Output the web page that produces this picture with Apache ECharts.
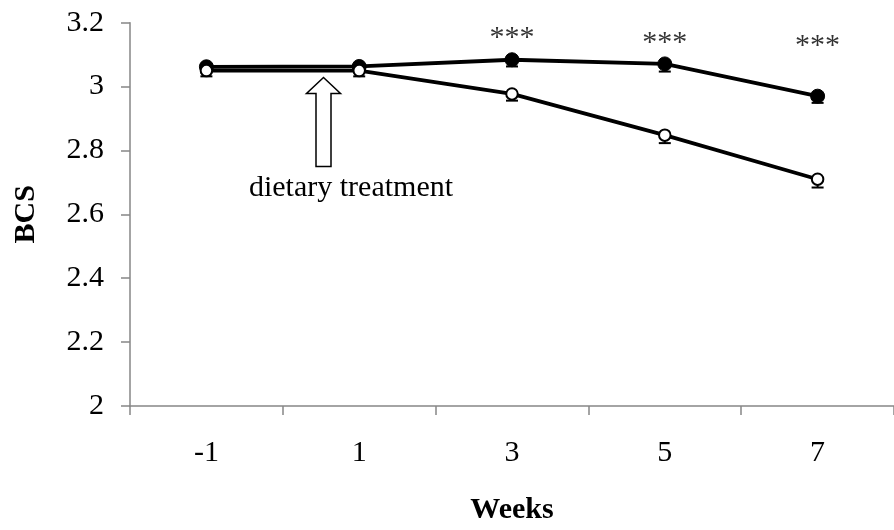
<!DOCTYPE html>
<html>
<head>
<meta charset="utf-8">
<script src="https://cdn.jsdelivr.net/npm/echarts@6/dist/echarts.min.js"></script>
<style>html,body{margin:0;padding:0;background:#fff}#c{width:894px;height:530px}</style>
</head>
<body>
<div id="c"></div>
<script>
// Data
var weeks = ['-1', '1', '3', '5', '7'];
var filledBCS = [3.062, 3.063, 3.084, 3.071, 2.970];
var filledErr = [0.018, 0.018, 0.021, 0.024, 0.021];
var openBCS = [3.050, 3.050, 2.977, 2.848, 2.710];
var openErr = [0.018, 0.018, 0.021, 0.025, 0.026];
var starLabels = ['', '', '***', '***', '***'];
var starLevels = [null, null, 3.151, 3.135, 3.128];
var yTicks = {min: 2, max: 3.2, interval: 0.2};

var FONT = '"Liberation Serif", "Times New Roman", serif';
var AXIS = '#868686';

function errSeries(vals, errs, z) {
  return {
    type: 'custom',
    z: z,
    silent: true,
    data: vals.map(function (v, i) { return [i, v - errs[i], v]; }),
    renderItem: function (params, api) {
      var lo = api.coord([api.value(0), api.value(1)]);
      var mid = api.coord([api.value(0), api.value(2)]);
      var w = 6;
      var st = {stroke: '#000', lineWidth: 2};
      return {type: 'group', children: [
        {type: 'line', shape: {x1: lo[0], y1: lo[1], x2: mid[0], y2: mid[1]}, style: st},
        {type: 'line', shape: {x1: lo[0] - w, y1: lo[1], x2: lo[0] + w, y2: lo[1]}, style: st}
      ]};
    }
  };
}

var chart = echarts.init(document.getElementById('c'), null, {renderer: 'canvas'});
chart.setOption({
  animation: false,
  backgroundColor: '#fff',
  grid: {left: 130, right: -13, top: 22.7, bottom: 118.5, containLabel: false},
  xAxis: {
    type: 'category',
    data: weeks,
    boundaryGap: true,
    axisLine: {lineStyle: {color: AXIS, width: 1.5}},
    axisTick: {show: true, length: 9, interval: 0, alignWithLabel: false, lineStyle: {color: AXIS, width: 1.5}},
    axisLabel: {margin: 32, color: '#000', fontFamily: FONT, fontSize: 30},
    name: 'Weeks',
    nameLocation: 'middle',
    nameGap: 89,
    nameTextStyle: {color: '#000', fontFamily: FONT, fontSize: 30, fontWeight: 'bold'},
    splitLine: {show: false}
  },
  yAxis: {
    type: 'value',
    min: yTicks.min, max: yTicks.max, interval: yTicks.interval,
    axisLine: {show: true, lineStyle: {color: AXIS, width: 1.5}},
    axisTick: {show: true, length: 9, inside: false, lineStyle: {color: AXIS, width: 1.5}},
    axisLabel: {margin: 26, color: '#000', fontFamily: FONT, fontSize: 30},
    splitLine: {show: false},
    name: 'BCS',
    nameLocation: 'middle',
    nameGap: 89,
    nameTextStyle: {color: '#000', fontFamily: FONT, fontSize: 30, fontWeight: 'bold'}
  },
  series: [
    errSeries(filledBCS, filledErr, 1),
    errSeries(openBCS, openErr, 1),
    {
      type: 'line', z: 2, data: filledBCS,
      symbol: 'circle', symbolSize: 14, showSymbol: true,
      lineStyle: {color: '#000', width: 3.8},
      itemStyle: {color: '#000', borderColor: '#000', borderWidth: 1}
    },
    {
      type: 'line', z: 3, data: openBCS,
      symbol: 'circle', symbolSize: 11.5, showSymbol: true,
      lineStyle: {color: '#000', width: 3.8},
      itemStyle: {color: '#fff', borderColor: '#000', borderWidth: 2}
    },
    {
      type: 'scatter', z: 4, symbolSize: 1,
      itemStyle: {color: 'rgba(0,0,0,0)'},
      data: starLevels.map(function (v, i) { return v == null ? null : [i, v]; }),
      label: {
        show: true, position: 'inside', color: '#000',
        fontFamily: FONT, fontSize: 30,
        formatter: function (p) { return starLabels[p.dataIndex]; }
      }
    }
  ],
  graphic: [
    {
      type: 'polygon', z: 10,
      shape: {points: [[323.5, 77.5], [340.5, 93.5], [331, 93.5], [331, 166.5], [316, 166.5], [316, 93.5], [306.5, 93.5]]},
      style: {fill: '#fff', stroke: '#000', lineWidth: 1.5}
    },
    {
      type: 'text', z: 10, x: 351, y: 188,
      style: {text: 'dietary treatment', fill: '#000', font: '30px ' + FONT, textAlign: 'center', textVerticalAlign: 'middle'}
    }
  ]
});
</script>
</body>
</html>
